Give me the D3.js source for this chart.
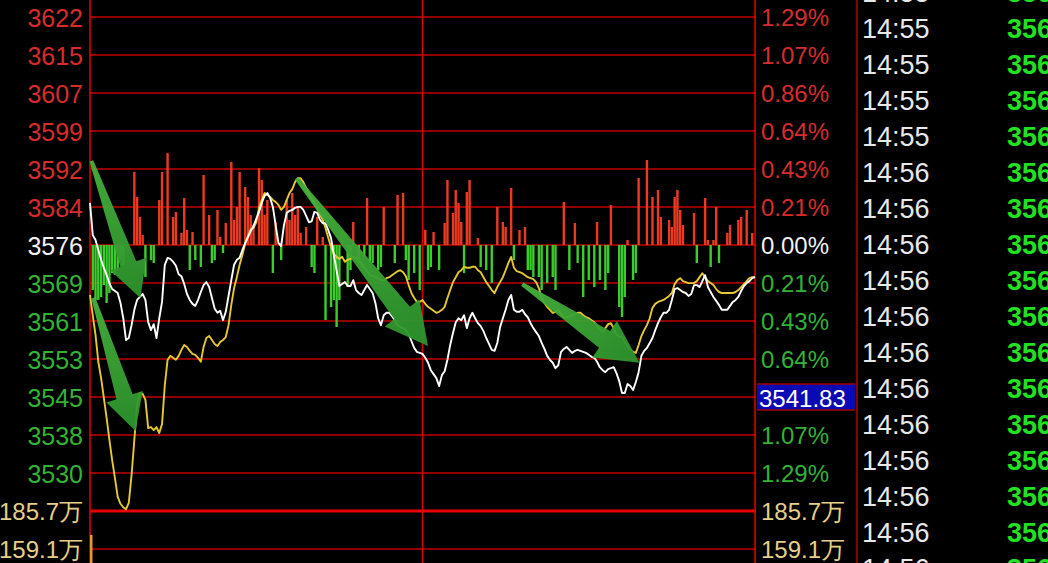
<!DOCTYPE html>
<html><head><meta charset="utf-8">
<script src="https://cdn.jsdelivr.net/npm/d3@7"></script>
<style>html,body{margin:0;padding:0;background:#000;overflow:hidden}</style>
</head><body>
<svg id="c" width="1048" height="563"></svg>
<script>
// ---------------- data ----------------
const prevClose = 3576.8;
const priceStep = 7.68;
const priceLabels = ["3622","3615","3607","3599","3592","3584","3576","3569","3561","3553","3545","3538","3530"];
const pctLabels = ["1.29%","1.07%","0.86%","0.64%","0.43%","0.21%","0.00%","0.21%","0.43%","0.64%","0.86%","1.07%","1.29%"];
const volTicks = [185.7, 159.1];
const volLabels = ["185.7万", "159.1万"];
const volumes = [169.0];
const whiteLine = [
3585.3,3578.8,3577.8,3575.8,3573.8,3572.2,3570.7,3569.1,3567.9,3567.5,
3567.1,3565.1,3562.0,3557.6,3558.0,3560.6,3563.7,3565.7,3566.3,3566.9,
3565.7,3561.2,3559.6,3560.8,3558.0,3562.0,3565.3,3572.8,3574.2,3574.0,
3573.4,3572.6,3570.9,3570.5,3568.9,3566.9,3565.7,3564.9,3564.5,3565.7,
3567.3,3568.7,3569.3,3568.3,3566.1,3563.9,3563.1,3563.5,3561.6,3563.3,
3566.5,3569.7,3572.8,3573.8,3574.2,3575.8,3577.2,3578.4,3579.6,3580.6,
3582.1,3583.5,3585.3,3586.7,3587.3,3586.3,3584.5,3580.8,3577.2,3576.6,
3580.8,3583.3,3583.7,3583.9,3584.3,3584.5,3584.5,3583.9,3582.7,3581.4,
3581.6,3583.5,3583.3,3581.9,3581.2,3581.2,3579.8,3578.2,3574.8,3571.7,
3568.5,3568.9,3569.3,3568.5,3568.5,3569.7,3567.7,3567.1,3566.7,3567.7,
3568.7,3567.9,3567.1,3565.1,3562.0,3560.6,3562.6,3563.1,3563.1,3562.4,
3561.6,3560.6,3560.2,3560.0,3559.6,3558.8,3557.4,3556.0,3555.2,3555.0,
3554.8,3554.0,3553.0,3551.5,3550.7,3549.9,3548.3,3550.5,3551.3,3553.6,
3556.6,3559.0,3561.2,3562.0,3561.6,3562.6,3560.0,3562.0,3563.1,3562.0,
3561.0,3560.4,3559.4,3558.0,3556.8,3555.6,3555.4,3557.0,3560.2,3562.0,
3563.7,3565.7,3566.7,3563.7,3563.3,3563.3,3563.7,3562.8,3562.2,3561.0,
3560.0,3559.2,3558.4,3557.0,3555.8,3554.4,3553.6,3553.0,3551.9,3552.5,
3555.2,3555.8,3556.2,3555.6,3555.0,3555.4,3555.6,3555.4,3555.2,3555.0,
3554.6,3554.2,3554.0,3553.2,3552.1,3551.5,3551.1,3551.7,3551.9,3552.1,
3550.9,3549.3,3546.9,3546.9,3548.7,3548.3,3547.5,3549.1,3551.1,3554.4,
3555.4,3556.0,3557.0,3558.0,3559.6,3561.0,3562.2,3563.1,3563.1,3563.7,
3565.7,3567.9,3568.1,3567.7,3567.3,3567.1,3566.5,3566.9,3568.7,3568.7,
3568.3,3569.5,3570.7,3568.3,3567.3,3566.3,3565.5,3564.7,3563.7,3563.7,
3563.7,3564.5,3565.3,3565.7,3566.3,3567.5,3568.5,3569.1,3569.5,3570.1,
3570.3];
const yellowLine = [
3566.7,3562.6,3558.6,3553.2,3549.9,3545.9,3541.8,3537.4,3533.3,3529.7,
3525.9,3524.5,3523.8,3523.4,3524.7,3530.3,3537.4,3544.5,3546.9,3546.7,
3545.5,3539.8,3540.0,3539.4,3540.0,3538.8,3540.6,3548.5,3553.6,3554.4,
3554.0,3553.6,3554.4,3555.6,3556.6,3556.2,3555.4,3554.8,3554.6,3554.0,
3553.2,3556.2,3558.0,3558.4,3557.6,3556.8,3556.4,3557.2,3557.6,3558.2,
3560.6,3564.7,3568.1,3570.3,3572.8,3574.8,3577.0,3578.6,3580.0,3580.2,
3581.4,3584.3,3585.9,3587.3,3586.9,3586.5,3585.9,3585.5,3584.9,3583.9,
3584.5,3585.9,3587.3,3588.1,3589.5,3590.3,3590.3,3589.5,3588.3,3587.1,
3586.1,3585.1,3584.1,3582.9,3581.9,3580.2,3578.2,3576.4,3575.0,3574.4,
3574.0,3574.4,3573.4,3573.8,3574.0,3574.4,3574.2,3573.4,3573.0,3572.2,
3571.5,3570.7,3570.5,3570.3,3570.1,3569.7,3569.7,3570.1,3570.3,3570.7,
3571.1,3571.5,3571.7,3571.3,3570.5,3568.7,3567.1,3566.1,3565.3,3565.3,
3565.7,3564.9,3564.3,3563.9,3563.5,3563.1,3563.3,3563.7,3564.3,3566.1,
3567.7,3569.3,3570.3,3571.3,3571.7,3572.4,3572.2,3572.2,3572.4,3572.4,
3571.7,3571.3,3570.3,3569.3,3568.5,3567.7,3567.1,3568.3,3569.3,3570.3,
3571.7,3573.2,3574.4,3572.2,3571.5,3571.3,3571.1,3570.7,3570.3,3570.1,
3569.9,3569.3,3568.1,3566.1,3565.1,3564.3,3563.7,3563.1,3563.3,3563.7,
3562.8,3562.2,3562.2,3562.4,3562.6,3562.8,3563.1,3563.1,3562.6,3562.2,
3562.0,3561.6,3561.2,3560.4,3559.8,3559.2,3560.0,3560.8,3561.0,3560.0,
3558.8,3558.2,3558.2,3557.2,3556.4,3555.6,3555.2,3555.0,3556.6,3558.4,
3559.6,3560.6,3562.0,3564.1,3564.9,3565.3,3565.5,3565.7,3566.1,3566.5,
3567.1,3568.9,3569.7,3570.1,3569.5,3569.3,3569.1,3569.1,3569.1,3569.5,
3570.3,3571.1,3570.3,3569.5,3569.1,3568.7,3567.9,3567.3,3567.1,3567.1,
3567.1,3567.1,3567.1,3567.3,3567.7,3568.3,3568.9,3569.5,3570.1,3570.3,
3570.3];
const barValues = [
0,-45,-55,-55,-52,-40,-58,-48,-28,-30,-25,-15,-20,0,0,0,73,48,28,10,
-32,0,-15,-18,0,45,73,0,92,0,28,33,0,12,47,15,-25,13,-15,0,
-22,70,0,30,-18,-15,35,8,-8,22,0,83,25,38,73,0,58,48,30,20,
0,77,65,30,45,0,-28,23,0,-15,0,45,25,52,30,38,12,0,18,0,
-22,-28,28,0,8,-75,0,-62,-55,-82,-55,0,0,-42,-25,23,0,-15,0,-12,
47,-18,-18,0,-25,-22,38,0,0,0,-18,50,0,52,-15,-35,0,-28,0,-45,
0,15,-25,-22,13,0,-25,0,22,65,0,32,55,42,23,-28,53,65,0,0,
7,-22,0,-25,0,-38,0,38,0,23,18,0,57,-15,0,15,0,18,-25,-25,
-32,0,-32,-45,0,-38,0,-32,-45,0,0,43,0,-25,0,22,-18,0,-52,0,
-35,0,-42,23,-35,0,-45,-28,40,0,0,-62,-72,-52,5,0,-35,-28,67,0,
0,85,0,48,0,55,28,0,0,25,18,48,55,35,20,0,0,0,32,-18,
0,0,47,5,-22,5,38,-18,0,0,12,20,0,0,25,28,0,35,0,12,0];
const timeRows = ["14:55","14:55","14:55","14:55","14:55","14:56","14:56","14:56","14:56","14:56","14:56","14:56","14:56","14:56","14:56","14:56","14:56"];
const tapeRows = ["3568.91","3568.88","3568.85","3568.87","3568.90","3569.02","3569.10","3569.08","3569.15","3569.21","3569.18","3569.25","3569.30","3569.27","3569.33","3569.36","3569.40"];
const cursorLabel = "3541.83";
// annotation arrows: [tail minute, tail price, tip minute, tip price]
const arrows = [
  [0.5, 3593.8, 18.2, 3566.1],
  [1.2, 3566.1, 16.4, 3539.2],
  [74.5, 3590.3, 122.0, 3556.4],
  [156.0, 3568.9, 198.3, 3553.0]
];

// ---------------- drawing ----------------
const svg = d3.select("#c");
svg.append("rect").attr("width",1048).attr("height",563).attr("fill","#000");

const x = d3.scaleLinear().domain([0,240]).range([90,755]);
const tickVals = d3.range(6,-7,-1).map(k => prevClose + k*priceStep);
const y = d3.scaleLinear().domain([prevClose-6*priceStep, prevClose+6*priceStep]).range([473,17]);
const yVol = d3.scaleLinear().domain([159.1,185.7]).range([549,511]);
const yBar = d3.scaleLinear().domain([-100,100]).range([y(prevClose)+100, y(prevClose)-100]);

const RED="#d62c2c", GREEN="#33b233", WHITE="#f2f2f2", KHAKI="#e6cf88";
const GRID="#c20000";

// gridlines
const grid = svg.append("g");
grid.selectAll("line.h").data(tickVals).join("line")
  .attr("x1",90).attr("x2",756).attr("y1",d=>y(d)).attr("y2",d=>y(d))
  .attr("stroke",GRID).attr("stroke-width",1.5);
grid.selectAll("line.v").data(volTicks).join("line")
  .attr("x1",90).attr("x2",756).attr("y1",d=>yVol(d)).attr("y2",d=>yVol(d))
  .attr("stroke",(d,i)=>i===0?"#e80000":GRID).attr("stroke-width",(d,i)=>i===0?3:1.5);
grid.selectAll("line.vert").data([0,120,240]).join("line")
  .attr("x1",d=>x(d)).attr("x2",d=>x(d)).attr("y1",0).attr("y2",563)
  .attr("stroke","#d80000").attr("stroke-width",1.6);
grid.append("line").attr("x1",857).attr("x2",857).attr("y1",0).attr("y2",563)
  .attr("stroke","#8a0000").attr("stroke-width",2);

// bars
svg.append("g").selectAll("rect").data(barValues).join("rect")
  .attr("x",(d,i)=>x(i)-1.2).attr("width",2.4)
  .attr("y",d=>Math.min(yBar(d),yBar(0))).attr("height",d=>Math.abs(yBar(d)-yBar(0)))
  .attr("fill",d=>d>0?"#ec3a22":"#3ccc2c");

// volume
svg.append("g").selectAll("rect").data(volumes).join("rect")
  .attr("x",(d,i)=>x(i)).attr("width",2.5)
  .attr("y",d=>yVol(d)).attr("height",d=>563-yVol(d)).attr("fill","#e8962e");

// lines
const line = d3.line().x((d,i)=>x(i)).y(d=>y(d));
svg.append("path").attr("d",line(yellowLine)).attr("fill","none").attr("stroke","#e6c832").attr("stroke-width",1.9).attr("stroke-linejoin","round");
svg.append("path").attr("d",line(whiteLine)).attr("fill","none").attr("stroke","#ffffff").attr("stroke-width",1.9).attr("stroke-linejoin","round");

// arrows
const defs = svg.append("defs");
arrows.forEach((a,i)=>{
  const tx=x(a[0]), ty=y(a[1]), px=x(a[2]), py=y(a[3]);
  const L=Math.hypot(px-tx,py-ty), ux=(px-tx)/L, uy=(py-ty)/L, nx=-uy, ny=ux;
  const hl = i>=2?42:36, hw = i>=2?22:19, w1 = i>=2?10:8.5, w0=2;
  const Nx=px-ux*hl, Ny=py-uy*hl;
  const pts=[[tx+nx*w0,ty+ny*w0],[Nx+nx*w1,Ny+ny*w1],[Nx+nx*hw,Ny+ny*hw],[px,py],
             [Nx-nx*hw,Ny-ny*hw],[Nx-nx*w1,Ny-ny*w1],[tx-nx*w0,ty-ny*w0]];
  const gid="ag"+i;
  const gr=defs.append("linearGradient").attr("id",gid).attr("gradientUnits","userSpaceOnUse")
    .attr("x1",tx).attr("y1",ty).attr("x2",px).attr("y2",py);
  gr.append("stop").attr("offset",0).attr("stop-color","#46b23c");
  gr.append("stop").attr("offset",1).attr("stop-color","#2c922c");
  svg.append("path").attr("d",d3.line()(pts)+"Z").attr("fill",`url(#${gid})`).attr("opacity",0.95);
});

// left axis
const fontStyle = (sel,size)=>sel.attr("font-family","'Liberation Sans',Arial,sans-serif").attr("font-size",size);
const gL = svg.append("g").attr("transform","translate(83,1)")
  .call(d3.axisLeft(y).tickValues(tickVals).tickFormat((d,i)=>priceLabels[i]).tickSize(0).tickPadding(0));
gL.select(".domain").remove();
fontStyle(gL.selectAll("text"),25).attr("fill",(d,i)=>i<6?RED:(i===6?WHITE:GREEN));
const gLV = svg.append("g").attr("transform","translate(83,1)")
  .call(d3.axisLeft(yVol).tickValues(volTicks).tickFormat((d,i)=>volLabels[i]).tickSize(0).tickPadding(0));
gLV.select(".domain").remove();
fontStyle(gLV.selectAll("text"),24).attr("fill",KHAKI);

// right axis (the -0.86% tick is covered by the cursor price box, as in the source)
const cursorTick = prevClose-4*priceStep;
const rightIdx = d3.range(tickVals.length).filter(i=>tickVals[i]!==cursorTick);
const gR = svg.append("g").attr("transform","translate(761,1)")
  .call(d3.axisRight(y).tickValues(rightIdx.map(i=>tickVals[i])).tickFormat((d,j)=>pctLabels[rightIdx[j]]).tickSize(0).tickPadding(0));
gR.select(".domain").remove();
fontStyle(gR.selectAll("text"),24).attr("fill",(d,j)=>{const i=rightIdx[j];return i<6?RED:(i===6?WHITE:GREEN);});
const gRV = svg.append("g").attr("transform","translate(761,1)")
  .call(d3.axisRight(yVol).tickValues(volTicks).tickFormat((d,i)=>volLabels[i]).tickSize(0).tickPadding(0));
gRV.select(".domain").remove();
fontStyle(gRV.selectAll("text"),24).attr("fill",KHAKI);

// cursor price box
const cy = y(cursorTick);
svg.append("rect").attr("x",757).attr("y",cy-13).attr("width",98).attr("height",26).attr("fill","#0a0ab4");
svg.append("line").attr("x1",757).attr("x2",855).attr("y1",cy-13).attr("y2",cy-13).attr("stroke","#a00000").attr("stroke-width",1.5);
svg.append("line").attr("x1",757).attr("x2",855).attr("y1",cy+13).attr("y2",cy+13).attr("stroke","#a00000").attr("stroke-width",1.5);
fontStyle(svg.append("text").attr("x",759).attr("y",cy+1).attr("dy","0.36em").attr("fill","#ffffff").text(cursorLabel),24);

// time & sales column
const rowY = d3.scaleLinear().domain([0,16]).range([-8,568]);
fontStyle(svg.append("g").selectAll("text").data(timeRows).join("text")
  .attr("x",862).attr("y",(d,i)=>rowY(i)).attr("dy","0.36em").attr("fill","#e8e8e8").text(d=>d),27);
fontStyle(svg.append("g").selectAll("text").data(tapeRows).join("text")
  .attr("x",1007).attr("y",(d,i)=>rowY(i)).attr("dy","0.36em").attr("fill","#22e022").attr("font-weight","bold").text(d=>d),27);
</script>
</body></html>
